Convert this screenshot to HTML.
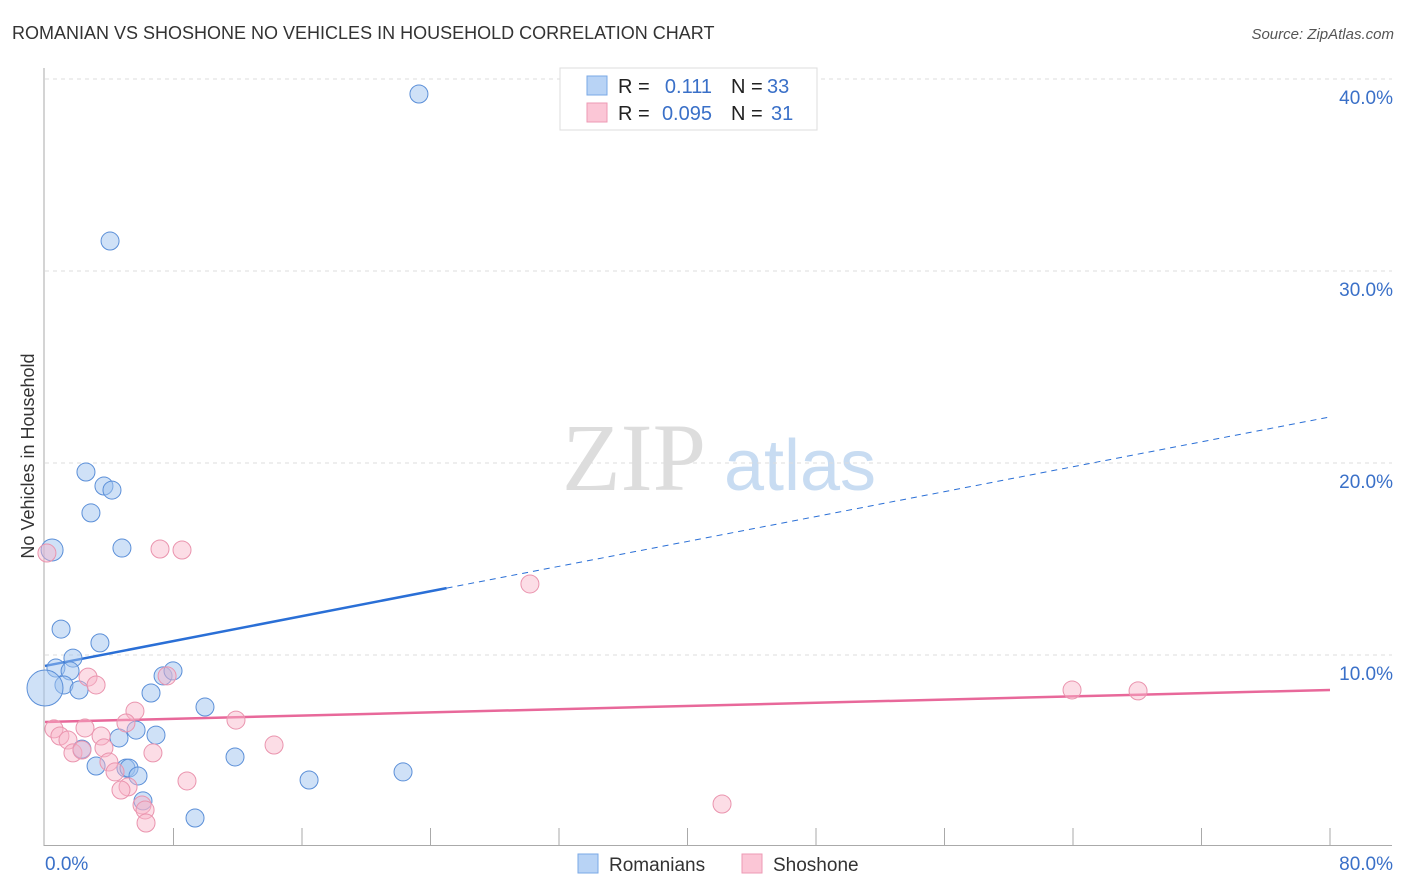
<!DOCTYPE html>
<html><head><meta charset="utf-8"><style>
body{margin:0;background:#fff;font-family:"Liberation Sans",sans-serif;}
#wrap{position:relative;width:1406px;height:892px;overflow:hidden;}
svg{position:absolute;left:0;top:0;}
</style></head><body>
<div id="wrap">
<svg id="chart" width="1406" height="892">
<text x="12" y="39" font-size="18" fill="#333">ROMANIAN VS SHOSHONE NO VEHICLES IN HOUSEHOLD CORRELATION CHART</text>
<text x="1394" y="39" font-size="15" fill="#555" text-anchor="end" font-style="italic">Source: ZipAtlas.com</text>
<text x="34" y="456" font-size="18" fill="#333" text-anchor="middle" transform="rotate(-90 34 456)">No Vehicles in Household</text>
<g><text x="634" y="490" font-size="96" fill="#ddd" font-family="Liberation Serif,serif" text-anchor="middle">ZIP</text><text x="800" y="490" font-size="72" fill="#c8dcf2" text-anchor="middle">atlas</text></g>
<g id="grid"></g><g id="axes"></g><g id="lines"></g><g id="pts"></g>
<g>
<rect x="560" y="68" width="257" height="62" fill="#fff" stroke="#ddd"/>
<rect x="587" y="76" width="20" height="19" fill="#b8d3f5" stroke="#7aa8e6"/>
<rect x="587" y="103" width="20" height="19" fill="#fbc6d6" stroke="#ee9ab4"/>
<text x="618" y="93" font-size="20" fill="#222">R =</text><text x="712" y="93" font-size="20" fill="#3a70c8" text-anchor="end">0.111</text>
<text x="731" y="93" font-size="20" fill="#222">N =</text><text x="767" y="93" font-size="20" fill="#3a70c8">33</text>
<text x="618" y="120" font-size="20" fill="#222">R =</text><text x="712" y="120" font-size="20" fill="#3a70c8" text-anchor="end">0.095</text>
<text x="731" y="120" font-size="20" fill="#222">N =</text><text x="771" y="120" font-size="20" fill="#3a70c8">31</text>
</g>
<g>
<rect x="578" y="854" width="20" height="19" fill="#b8d3f5" stroke="#7aa8e6"/><text x="609" y="871" font-size="19" fill="#333">Romanians</text>
<rect x="742" y="854" width="20" height="19" fill="#fbc6d6" stroke="#ee9ab4"/><text x="773" y="871" font-size="19" fill="#333">Shoshone</text>
</g>
</svg></div>
<script>
const xTicks=[0,10,20,30,40,50,60,70,80];
const yTicks=[10,20,30,40];
const blueX=[23.28,4.05,2.55,3.67,4.17,2.86,4.79,0.44,1.00,3.42,1.74,0.68,1.56,1.18,2.12,0,7.35,7.97,6.60,9.96,11.83,4.61,5.67,6.91,3.18,5.04,5.23,5.79,16.44,22.29,6.10,9.34,2.30];
const blueY=[39.22,31.56,19.53,18.80,18.59,17.40,15.57,15.47,11.35,10.63,9.84,9.32,9.17,8.44,8.18,8.28,8.91,9.17,8.02,7.29,4.69,5.68,6.09,5.83,4.22,4.11,4.11,3.70,3.49,3.91,2.40,1.51,5.10];
const pinkX=[0.12,7.16,8.53,30.19,2.68,3.18,7.60,63.94,68.05,5.60,5.04,11.89,0.56,2.49,0.93,1.43,3.49,1.74,2.30,3.67,14.26,6.72,3.98,4.36,8.84,5.17,4.73,6.04,6.23,6.29,42.15];
const pinkY=[15.31,15.52,15.47,13.70,8.85,8.44,8.91,8.18,8.13,7.08,6.46,6.61,6.15,6.20,5.78,5.57,5.78,4.90,5.05,5.16,5.31,4.90,4.43,3.91,3.44,3.13,2.97,2.19,1.93,1.25,2.24];
const blueTrend=[9.43,22.4], blueSolidEnd=25;
const pinkTrend=[6.51,8.18];
const NS="http://www.w3.org/2000/svg";
const sx=v=>45+v/80*1285, sy=v=>847-v*19.2;
function mk(t,a,p){const e=document.createElementNS(NS,t);for(const k in a)e.setAttribute(k,a[k]);document.getElementById(p).appendChild(e);return e;}
yTicks.forEach(t=>{
 const g=mk('line',{x1:45,x2:1392,y1:sy(t),y2:sy(t),stroke:'#ddd','stroke-dasharray':'4,4'},'grid');
 
 
 const l=mk('text',{x:1393,y:sy(t)+25,'font-size':19,fill:'#3a70c8','text-anchor':'end'},'axes');
 l.textContent=t.toFixed(1)+'%';
 
 
});
mk('line',{x1:44,x2:44,y1:68,y2:846,stroke:'#aaa'},'axes');
mk('line',{x1:44,x2:1392,y1:845.5,y2:845.5,stroke:'#aaa'},'axes');
const ti=[0,5,10,15,20,25,30,35,40,45,50,55,60,65,70,75,80];
for(let i=10;i<=80;i+=8.0375){}
for(let k=1;k<=10;k++){const v=k*8;const t=mk('line',{x1:sx(v),x2:sx(v),y1:828,y2:846,stroke:'#aaa'},'axes');}
const xl0=mk('text',{x:45,y:870,'font-size':19,fill:'#3a70c8'},'axes');xl0.textContent='0.0%';


const xl1=mk('text',{x:1393,y:870,'font-size':19,fill:'#3a70c8','text-anchor':'end'},'axes');xl1.textContent='80.0%';


function ty(tr,x){return tr[0]+(tr[1]-tr[0])*x/80;}
const b1=mk('line',{x1:sx(0),y1:sy(ty(blueTrend,0)),x2:sx(blueSolidEnd),y2:sy(ty(blueTrend,blueSolidEnd)),stroke:'#2a6fd6','stroke-width':2.5},'lines');


const b2=mk('line',{x1:sx(blueSolidEnd),y1:sy(ty(blueTrend,blueSolidEnd)),x2:sx(80),y2:sy(ty(blueTrend,80)),stroke:'#2a6fd6','stroke-width':1,'stroke-dasharray':'6,5'},'lines');


const p1=mk('line',{x1:sx(0),y1:sy(ty(pinkTrend,0)),x2:sx(80),y2:sy(ty(pinkTrend,80)),stroke:'#e8689a','stroke-width':2.5},'lines');


blueX.forEach((x,i)=>{
 const r=(i===15)?18:(i===7?11:9);
 const c=mk('circle',{cx:sx(x),cy:sy(blueY[i]),r:r,fill:'rgba(160,196,240,0.5)',stroke:'#5b8fd8','stroke-width':1},'pts');
 
 
});
pinkX.forEach((x,i)=>{
 const c=mk('circle',{cx:sx(x),cy:sy(pinkY[i]),r:9,fill:'rgba(248,180,200,0.45)',stroke:'#ea94ae','stroke-width':1},'pts');
 
 
});
</script>
</body></html>
